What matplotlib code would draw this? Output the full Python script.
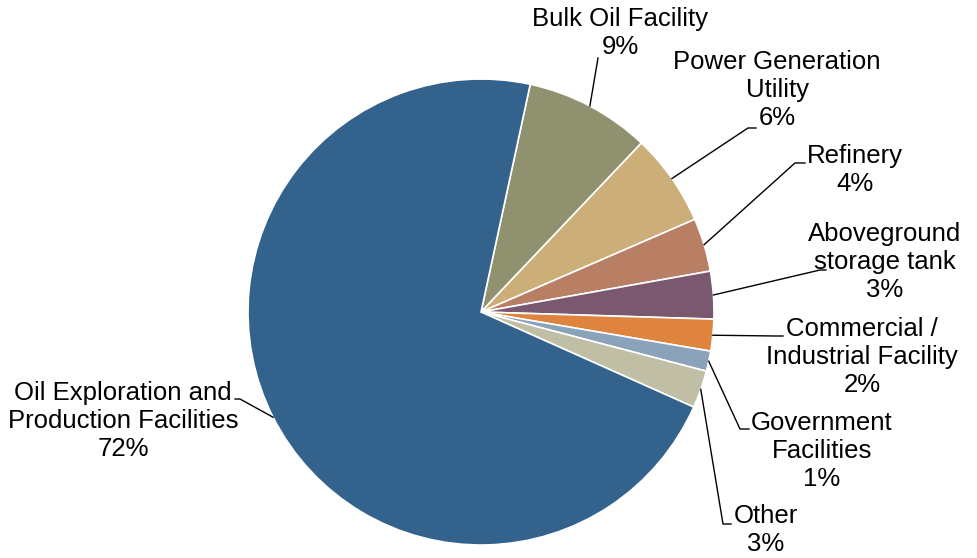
import numpy as np
import matplotlib.pyplot as plt

plt.rcParams["font.family"] = ["Liberation Sans", "DejaVu Sans"]

# Share of incidents by facility type (%)
categories = [
    "Bulk Oil Facility",
    "Power Generation\nUtility",
    "Refinery",
    "Aboveground\nstorage tank",
    "Commercial /\nIndustrial Facility",
    "Government\nFacilities",
    "Other",
    "Oil Exploration and\nProduction Facilities",
]
shares = [8.7, 6.4, 3.7, 3.3, 2.2, 1.4, 2.6, 71.7]
colors = ["#8F916F", "#CBAE78", "#B97F64", "#7A5870",
          "#DE843F", "#8AA2BA", "#C0BFA6", "#33638C"]

# label layout in pixel coords (y measured from the top)
text_pos = [(620, 33), (777, 90), (855, 170), (885, 262),
            (862, 357), (822, 451), (766, 530), (123, 421)]
elbows = [None, (748, 128, 756), (795, 163, 805), (820, 270, 826),
          (776, 336, 783), (740, 429, 749), (723, 524, 731), (240, 399, 235)]

W, H = 978, 558
fig = plt.figure(figsize=(W / 100, H / 100), dpi=100)
ax = fig.add_axes([0, 0, 1, 1])
ax.axis("off")

cx, cy, r = 481, H - 312, 233
start = 77.8
wedges, _ = ax.pie(shares, colors=colors, startangle=start, counterclock=False,
                   center=(cx, cy), radius=r,
                   wedgeprops=dict(edgecolor="white", linewidth=1.2))
ax.set_xlim(0, W)
ax.set_ylim(0, H)
ax.set_aspect("equal")

for w, name, val, tp, el in zip(wedges, categories, shares, text_pos, elbows):
    mid = np.deg2rad((w.theta1 + w.theta2) / 2)
    ex, ey = cx + r * np.cos(mid), cy + r * np.sin(mid)
    ax.text(tp[0], H - tp[1], f"{name}\n{round(val):.0f}%", ha="center", va="center",
            multialignment="center", fontsize=18.5, linespacing=1.22, color="black")
    if el is None:
        ax.plot([ex, 598], [ey, H - 58], color="black", lw=1)
    else:
        ax.plot([ex, el[0], el[2]], [ey, H - el[1], H - el[1]], color="black", lw=1)

fig.savefig("out.png", dpi=100)
